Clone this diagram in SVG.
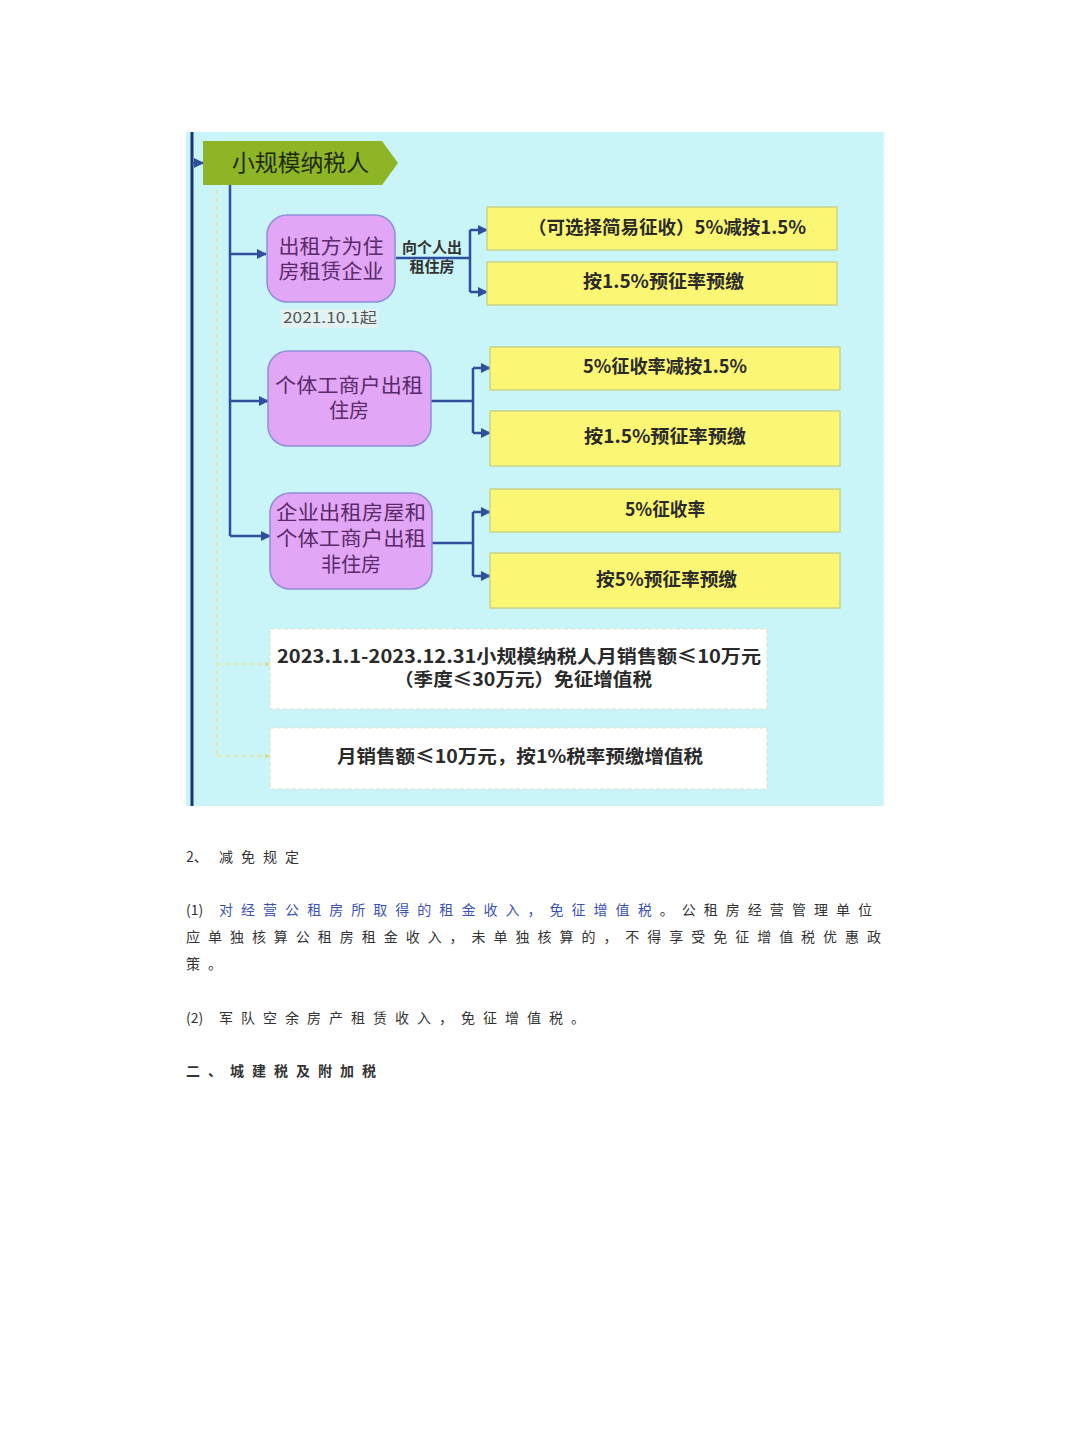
<svg xmlns="http://www.w3.org/2000/svg" width="1080" height="1440" viewBox="0 0 1080 1440">
<style>
.cjk{font-family:"Noto Sans CJK SC","Noto Sans",sans-serif;}
.yel{fill:#fbf673;stroke:#c8d48a;stroke-width:1.5;}
.pur{fill:#e2a6f7;stroke:#8f8fd8;stroke-width:1.5;}
.wht{fill:#ffffff;stroke:#e2e2c8;stroke-width:1.2;stroke-dasharray:4 3;}
.ytx{font-size:18px;font-weight:bold;fill:#2a2a2a;}
.ptx{font-size:20px;fill:#5a2a6a;text-anchor:middle;}
.wtx{font-size:18px;font-weight:bold;fill:#2a2a2a;}
.con{fill:none;stroke:#2d4f9e;stroke-width:2.5;}
.dash{fill:none;stroke:#dfe6a8;stroke-width:1.5;stroke-dasharray:5 3;}
.body{font-size:14px;fill:#333;letter-spacing:8px;}
</style>
<defs>
<marker id="arr" viewBox="0 0 10 10" refX="9" refY="5" markerWidth="4" markerHeight="4" orient="auto" markerUnits="strokeWidth">
<path d="M0,0 L10,5 L0,10 Z" fill="#2d4f9e"/>
</marker>
<marker id="arrL" viewBox="0 0 10 10" refX="9" refY="5" markerWidth="4" markerHeight="4" orient="auto" markerUnits="strokeWidth">
<path d="M0,0 L10,5 L0,10 Z" fill="#d6df98"/>
</marker>
</defs>
<rect width="1080" height="1440" fill="#ffffff"/>
<g id="panel">
<rect x="186" y="132" width="698" height="674" fill="#c9f5f8"/>
<line x1="884" y1="132" x2="884" y2="806" stroke="#eef6f6" stroke-width="2" stroke-dasharray="6 4"/>
</g>
<g id="connectors">
<line x1="192" y1="132" x2="192" y2="806" stroke="#1e3572" stroke-width="3"/>
<line x1="192" y1="163" x2="203" y2="163" class="con" marker-end="url(#arr)"/>
<line x1="230" y1="184" x2="230" y2="536" class="con"/>
<line x1="230" y1="254" x2="266" y2="254" class="con" marker-end="url(#arr)"/>
<line x1="230" y1="401" x2="268" y2="401" class="con" marker-end="url(#arr)"/>
<line x1="230" y1="536" x2="270" y2="536" class="con" marker-end="url(#arr)"/>
<path d="M396,258 H470" class="con"/>
<path d="M470,230 V292" class="con"/>
<line x1="470" y1="230" x2="487" y2="230" class="con" marker-end="url(#arr)"/>
<line x1="470" y1="292" x2="487" y2="292" class="con" marker-end="url(#arr)"/>
<path d="M431,401 H473" class="con"/>
<path d="M473,368 V433" class="con"/>
<line x1="473" y1="368" x2="490" y2="368" class="con" marker-end="url(#arr)"/>
<line x1="473" y1="433" x2="490" y2="433" class="con" marker-end="url(#arr)"/>
<path d="M432,543 H473" class="con"/>
<path d="M473,512 V576" class="con"/>
<line x1="473" y1="512" x2="490" y2="512" class="con" marker-end="url(#arr)"/>
<line x1="473" y1="576" x2="490" y2="576" class="con" marker-end="url(#arr)"/>
<path d="M217,190 V756" class="dash"/>
<line x1="217" y1="664" x2="270" y2="664" class="dash" marker-end="url(#arrL)"/>
<line x1="217" y1="756" x2="270" y2="756" class="dash" marker-end="url(#arrL)"/>
</g>
<g id="header">
<polygon points="203,141 382,141 398,163 382,185 203,185" fill="#8db526"/>
<text x="232" y="171" class="cjk" font-size="23" fill="#1f2a12" textLength="137" lengthAdjust="spacingAndGlyphs">小规模纳税人</text>
</g>
<g id="node-company">
<rect x="267" y="215" width="128" height="87" rx="20" class="pur"/>
<text x="331" y="254" class="cjk ptx" textLength="105" lengthAdjust="spacingAndGlyphs">出租方为住</text>
<text x="331" y="279" class="cjk ptx" textLength="105" lengthAdjust="spacingAndGlyphs">房租赁企业</text>
</g>
<g id="label-date">
<rect x="281" y="309" width="98" height="19" fill="#e2f2f2"/>
<text x="283" y="323" class="cjk" font-size="15" fill="#555" textLength="94" lengthAdjust="spacingAndGlyphs">2021.10.1起</text>
</g>
<g id="label-edge">
<text x="432" y="253" class="cjk" font-size="15" font-weight="bold" fill="#333" text-anchor="middle">向个人出</text>
<text x="432" y="272" class="cjk" font-size="15" font-weight="bold" fill="#333" text-anchor="middle">租住房</text>
</g>
<g id="node-y1">
<rect x="487" y="207" width="350" height="43" class="yel"/>
<text x="528" y="234" class="cjk ytx" textLength="278" lengthAdjust="spacingAndGlyphs">（可选择简易征收）5%减按1.5%</text>
</g>
<g id="node-y2">
<rect x="487" y="262" width="350" height="43" class="yel"/>
<text x="583" y="288" class="cjk ytx" textLength="161" lengthAdjust="spacingAndGlyphs">按1.5%预征率预缴</text>
</g>
<g id="node-individual">
<rect x="268" y="351" width="163" height="95" rx="20" class="pur"/>
<text x="349" y="393" class="cjk ptx" textLength="148" lengthAdjust="spacingAndGlyphs">个体工商户出租</text>
<text x="349" y="418" class="cjk ptx">住房</text>
</g>
<g id="node-y3">
<rect x="490" y="347" width="350" height="43" class="yel"/>
<text x="583" y="373" class="cjk ytx" textLength="164" lengthAdjust="spacingAndGlyphs">5%征收率减按1.5%</text>
</g>
<g id="node-y4">
<rect x="490" y="411" width="350" height="55" class="yel"/>
<text x="584" y="443" class="cjk ytx" textLength="162" lengthAdjust="spacingAndGlyphs">按1.5%预征率预缴</text>
</g>
<g id="node-nonresidential">
<rect x="270" y="493" width="162" height="96" rx="20" class="pur"/>
<text x="351" y="520" class="cjk ptx" textLength="150" lengthAdjust="spacingAndGlyphs">企业出租房屋和</text>
<text x="351" y="546" class="cjk ptx" textLength="150" lengthAdjust="spacingAndGlyphs">个体工商户出租</text>
<text x="351" y="572" class="cjk ptx">非住房</text>
</g>
<g id="node-y5">
<rect x="490" y="489" width="350" height="43" class="yel"/>
<text x="625" y="516" class="cjk ytx" textLength="80" lengthAdjust="spacingAndGlyphs">5%征收率</text>
</g>
<g id="node-y6">
<rect x="490" y="553" width="350" height="55" class="yel"/>
<text x="596" y="586" class="cjk ytx" textLength="141" lengthAdjust="spacingAndGlyphs">按5%预征率预缴</text>
</g>
<g id="node-w1">
<rect x="270" y="629" width="497" height="80" class="wht"/>
<text x="277" y="663" class="cjk wtx" textLength="484" lengthAdjust="spacingAndGlyphs">2023.1.1-2023.12.31小规模纳税人月销售额≤10万元</text>
<text x="394" y="686" class="cjk wtx" textLength="258" lengthAdjust="spacingAndGlyphs">（季度≤30万元）免征增值税</text>
</g>
<g id="node-w2">
<rect x="270" y="728" width="497" height="61" class="wht"/>
<text x="337" y="763" class="cjk wtx" textLength="366" lengthAdjust="spacingAndGlyphs">月销售额≤10万元，按1%税率预缴增值税</text>
</g>
<g id="body-text">
<text x="186" y="862" class="cjk" font-size="14" fill="#333">2、</text>
<text x="219" y="862" class="cjk body">减免规定</text>
<text x="186" y="915" class="cjk" font-size="14" fill="#333">(1)</text>
<text x="219" y="915" class="cjk body" textLength="661" lengthAdjust="spacing"><tspan fill="#3b52b4">对经营公租房所取得的租金收入，免征增值税</tspan>。公租房经营管理单位</text>
<text x="186" y="942" class="cjk body" textLength="703" lengthAdjust="spacing">应单独核算公租房租金收入，未单独核算的，不得享受免征增值税优惠政</text>
<text x="186" y="969" class="cjk body">策。</text>
<text x="186" y="1023" class="cjk" font-size="14" fill="#333">(2)</text>
<text x="219" y="1023" class="cjk body">军队空余房产租赁收入，免征增值税。</text>
<text x="186" y="1076" class="cjk body" font-weight="bold">二、城建税及附加税</text>
</g>
</svg>
